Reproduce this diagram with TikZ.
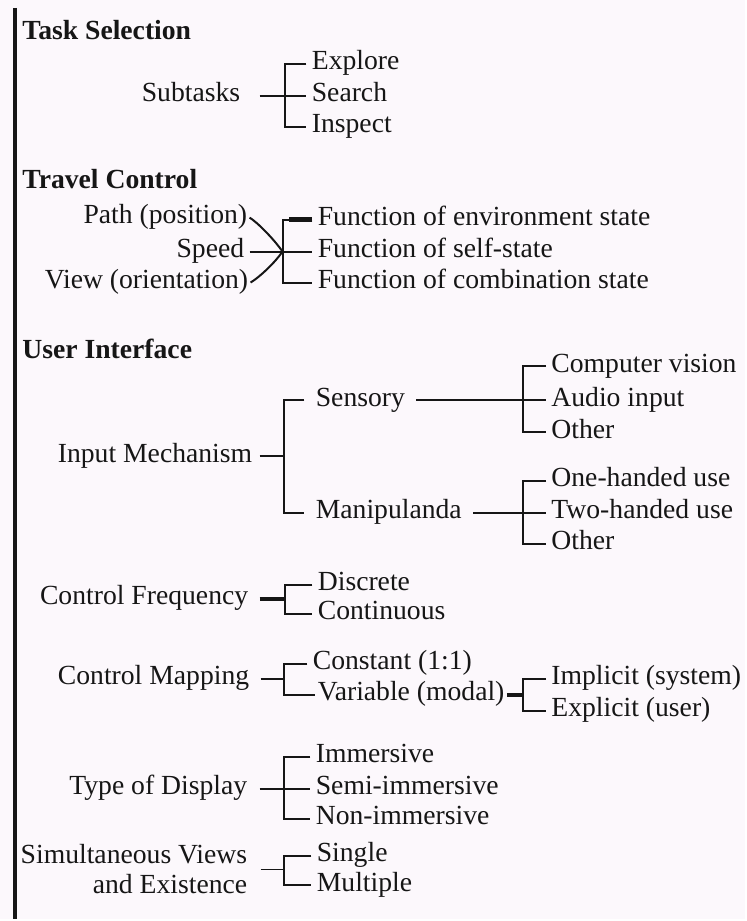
\documentclass[tikz,border=0pt]{standalone}
\usepackage{fontspec}
\setmainfont{Liberation Serif}
\definecolor{tvpaper}{RGB}{252,248,252}
\definecolor{tvink}{RGB}{22,22,22}
\newcommand{\tvfont}{\fontsize{13.85}{15}\selectfont}
\tikzset{
  lbl/.style={inner ysep=0pt, text height=0.76em, text depth=0.18em, text=tvink},
  hdr/.style={lbl, anchor=west, inner xsep=0pt, font=\tvfont\bfseries},
  root/.style={lbl, anchor=east, inner xsep=5.5pt, font=\tvfont},
  leaf/.style={lbl, anchor=west, inner xsep=2.5pt, font=\tvfont},
  brk/.style={line width=1pt, tvink},
  stub/.style={line width=2.2pt, tvink},
}

\begin{document}
\begin{tikzpicture}[x=0.5pt, y=-0.5pt]
        \fill[tvpaper] (0,0) rectangle (746,921);
        \draw[line width=1.6pt, tvink] (15,8) -- (15,921);

        \node[hdr](ts) at (22,34){Task Selection};
        \node[root, inner xsep=9.5pt](sub) at (260,96){Subtasks};
        \coordinate (jsub) at (285,96);
        \node[leaf](expl) at (307,64){Explore};
        \node[leaf](srch) at (307,96){Search};
        \node[leaf](insp) at (307,127){Inspect};
        \draw[brk](sub.east)--(srch.west);
        \draw[brk](expl.west)-|(jsub)|-(insp.west);

        \node[hdr](tc) at (22,183){Travel Control};
        \node[root, inner xsep=1pt](path) at (250,218){Path (position)};
        \node[root, inner xsep=2.5pt](speed) at (250,252){Speed};
        \node[root, inner xsep=1pt](view) at (251,283){View (orientation)};
        \coordinate (jtc) at (283,252);
        \node[leaf](fenv) at (313,220){Function of environment state};
        \node[leaf](fself) at (313,252){Function of self-state};
        \node[leaf](fcomb) at (313,283){Function of combination state};
        \draw[brk](path.east) .. controls +(7,4) and +(-9,-13) .. (jtc);
        \draw[brk](view.east) .. controls +(7,-4) and +(-9,13) .. (jtc);
        \draw[brk](speed.east)--(fself.west);
        \draw[brk](fenv.west)-|(jtc)|-(fcomb.west);
        \draw[stub](fenv.west)--([xshift=3pt]fenv.west -| jtc);

        \node[hdr](ui) at (22,353){User Interface};
        \node[root, inner xsep=3.5pt](inmech) at (260,457){Input Mechanism};
        \coordinate (jim) at (284,457);
        \node[leaf, inner xsep=5.5pt](sens) at (305,401){Sensory};
        \node[leaf, inner xsep=5.5pt](manip) at (305,514){Manipulanda};
        \draw[brk](inmech.east)--(jim);
        \draw[brk](sens.west)-|(jim)|-(manip.west);

        \coordinate (jsens) at (524,401);
        \node[leaf](cvis) at (547,367){Computer vision};
        \node[leaf](audio) at (547,401){Audio input};
        \node[leaf](oth1) at (547,433){Other};
        \draw[brk](sens.east)--(audio.west);
        \draw[brk](cvis.west)-|(jsens)|-(oth1.west);

        \coordinate (jmanip) at (524,514);
        \node[leaf](onehd) at (547,482){One-handed use};
        \node[leaf](twohd) at (547,514){Two-handed use};
        \node[leaf](oth2) at (547,545){Other};
        \draw[brk](manip.east)--(twohd.west);
        \draw[brk](onehd.west)-|(jmanip)|-(oth2.west);

        \node[root](cfreq) at (260,600){Control Frequency};
        \coordinate (jcf) at (285,600);
        \node[leaf](discr) at (313,586){Discrete};
        \node[leaf](contin) at (313,615){Continuous};
        \draw[stub](cfreq.east)--(jcf);
        \draw[brk](discr.west)-|(jcf)|-(contin.west);

        \node[root](cmap) at (261,680){Control Mapping};
        \coordinate (jcm) at (284,680);
        \node[leaf](const) at (308,665){Constant (1:1)};
        \node[leaf, inner xsep=1pt](var) at (316,696){Variable (modal)};
        \draw[brk](cmap.east)--(jcm);
        \draw[brk](const.west)-|(jcm)|-(var.west);

        \coordinate (jvar) at (524,696);
        \node[leaf](impl) at (547,680){Implicit (system)};
        \node[leaf](expli) at (547,712){Explicit (user)};
        \draw[stub](var.east)--(jvar);
        \draw[brk](impl.west)-|(jvar)|-(expli.west);

        \node[root, inner xsep=6pt](disp) at (260,790){Type of Display};
        \coordinate (jdisp) at (284,790);
        \node[leaf](imm) at (311,758){Immersive};
        \node[leaf](semi) at (311,790){Semi-immersive};
        \node[leaf](nonimm) at (311,820){Non-immersive};
        \draw[brk](disp.east)--(semi.west);
        \draw[brk](imm.west)-|(jdisp)|-(nonimm.west);

        \node[anchor=east, inner ysep=0pt, inner xsep=6.5pt, align=right, font=\tvfont, text=tvink](simv) at (261,871){Simultaneous Views\\and Existence};
        \coordinate (jsim) at (284,871);
        \node[leaf](single) at (312,857){Single};
        \node[leaf](multi) at (312,887){Multiple};
        \draw[brk](simv.east)--(jsim);
        \draw[brk](single.west)-|(jsim)|-(multi.west);
    \end{tikzpicture}
\end{document}
